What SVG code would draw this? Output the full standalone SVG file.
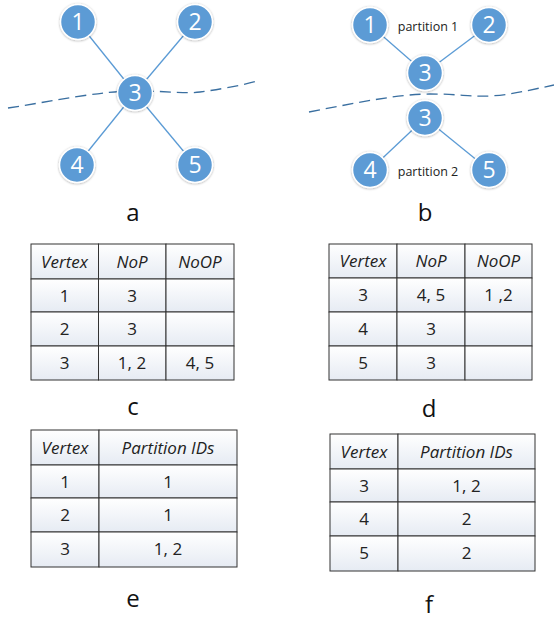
<svg xmlns="http://www.w3.org/2000/svg" width="554" height="620" viewBox="0 0 554 620">
<defs>
<linearGradient id="cell" x1="0" y1="0" x2="0" y2="1">
<stop offset="0" stop-color="#ffffff"/>
<stop offset="1" stop-color="#e6ebf3"/>
</linearGradient>
<filter id="sh" x="-30%" y="-30%" width="160%" height="160%">
<feDropShadow dx="0" dy="0.5" stdDeviation="1" flood-color="#000" flood-opacity="0.35"/>
</filter>
<style>
.nd{fill:#5B9BD5;stroke:#fff;stroke-width:1.5;filter:url(#sh)}
.nt{font-family:"Open Sans","Liberation Sans",sans-serif;font-size:23px;fill:#fff;text-anchor:middle}
.ed{stroke:#5B9BD5;stroke-width:1.3;fill:none}
.cut{stroke:#3A6FA0;stroke-width:1.3;fill:none;stroke-dasharray:11,6}
.pt{font-family:"Open Sans","Liberation Sans",sans-serif;font-size:12.5px;fill:#222;text-anchor:middle}
.lb{font-family:"Open Sans","Liberation Sans",sans-serif;font-size:24px;fill:#111;text-anchor:middle}
.cl{fill:url(#cell);stroke:#333;stroke-width:1}
.th{font-family:"Open Sans","Liberation Sans",sans-serif;font-size:17px;font-style:italic;fill:#222;text-anchor:middle}
.td{font-family:"Open Sans","Liberation Sans",sans-serif;font-size:17px;fill:#222;text-anchor:middle}
</style>
</defs>
<rect width="554" height="620" fill="#fff"/>

<g id="connectors">
<line class="ed" x1="78" y1="22" x2="135" y2="93"/>
<line class="ed" x1="195" y1="22" x2="135" y2="93"/>
<line class="ed" x1="77" y1="165" x2="135" y2="93"/>
<line class="ed" x1="195" y1="165" x2="135" y2="93"/>
<line class="ed" x1="370" y1="25" x2="425" y2="73"/>
<line class="ed" x1="489" y1="25" x2="425" y2="73"/>
<line class="ed" x1="425" y1="118" x2="370" y2="170"/>
<line class="ed" x1="425" y1="118" x2="489" y2="170"/>
</g>
<path id="cut-a" class="cut" d="M8,108 C60,100 100,91 135,91 S185,94 200,92 S240,86 257,81"/>
<path id="cut-b" class="cut" d="M309,112 C360,102 400,94 430,94 S470,97 490,96 S530,90 554,85"/>

<g id="a1"><circle class="nd" cx="78" cy="22" r="17.5"/><text class="nt" x="78" y="30">1</text></g>
<g id="a2"><circle class="nd" cx="195" cy="22" r="17.5"/><text class="nt" x="195" y="30">2</text></g>
<g id="a3"><circle class="nd" cx="135" cy="93" r="17.5"/><text class="nt" x="135" y="101">3</text></g>
<g id="a4"><circle class="nd" cx="77" cy="165" r="17.5"/><text class="nt" x="77" y="173">4</text></g>
<g id="a5"><circle class="nd" cx="195" cy="165" r="17.5"/><text class="nt" x="195" y="173">5</text></g>
<text class="lb" x="133" y="221">a</text>

<g id="b1"><circle class="nd" cx="370" cy="25" r="17.5"/><text class="nt" x="370" y="33">1</text></g>
<g id="b2"><circle class="nd" cx="489" cy="25" r="17.5"/><text class="nt" x="489" y="33">2</text></g>
<g id="b3u"><circle class="nd" cx="425" cy="73" r="17.5"/><text class="nt" x="425" y="81">3</text></g>
<g id="b3l"><circle class="nd" cx="425" cy="118" r="17.5"/><text class="nt" x="425" y="126">3</text></g>
<g id="b4"><circle class="nd" cx="370" cy="170" r="17.5"/><text class="nt" x="370" y="178">4</text></g>
<g id="b5"><circle class="nd" cx="489" cy="170" r="17.5"/><text class="nt" x="489" y="178">5</text></g>
<text class="pt" x="428" y="31">partition 1</text>
<text class="pt" x="428" y="176">partition 2</text>
<text class="lb" x="425" y="221">b</text>

<g id="table-c">
<rect class="cl" x="31" y="244" width="67.5" height="35"/><rect class="cl" x="98.5" y="244" width="67.5" height="35"/><rect class="cl" x="166" y="244" width="68" height="35"/>
<rect class="cl" x="31" y="279" width="67.5" height="33"/><rect class="cl" x="98.5" y="279" width="67.5" height="33"/><rect class="cl" x="166" y="279" width="68" height="33"/>
<rect class="cl" x="31" y="312" width="67.5" height="34"/><rect class="cl" x="98.5" y="312" width="67.5" height="34"/><rect class="cl" x="166" y="312" width="68" height="34"/>
<rect class="cl" x="31" y="346" width="67.5" height="34"/><rect class="cl" x="98.5" y="346" width="67.5" height="34"/><rect class="cl" x="166" y="346" width="68" height="34"/>
<text class="th" x="64.5" y="268">Vertex</text><text class="th" x="132" y="268">NoP</text><text class="th" x="200" y="268">NoOP</text>
<text class="td" x="64.5" y="302">1</text><text class="td" x="132" y="302">3</text>
<text class="td" x="64.5" y="335">2</text><text class="td" x="132" y="335">3</text>
<text class="td" x="64.5" y="369">3</text><text class="td" x="132" y="369">1, 2</text><text class="td" x="200" y="369">4, 5</text>
</g>
<text class="lb" x="133" y="415">c</text>

<g id="table-d">
<rect class="cl" x="329" y="244" width="68" height="34"/><rect class="cl" x="397" y="244" width="68" height="34"/><rect class="cl" x="465" y="244" width="67" height="34"/>
<rect class="cl" x="329" y="278" width="68" height="34"/><rect class="cl" x="397" y="278" width="68" height="34"/><rect class="cl" x="465" y="278" width="67" height="34"/>
<rect class="cl" x="329" y="312" width="68" height="34"/><rect class="cl" x="397" y="312" width="68" height="34"/><rect class="cl" x="465" y="312" width="67" height="34"/>
<rect class="cl" x="329" y="346" width="68" height="34"/><rect class="cl" x="397" y="346" width="68" height="34"/><rect class="cl" x="465" y="346" width="67" height="34"/>
<text class="th" x="363" y="267">Vertex</text><text class="th" x="431" y="267">NoP</text><text class="th" x="498.5" y="267">NoOP</text>
<text class="td" x="363" y="301">3</text><text class="td" x="431" y="301">4, 5</text><text class="td" x="498.5" y="301">1 ,2</text>
<text class="td" x="363" y="335">4</text><text class="td" x="431" y="335">3</text>
<text class="td" x="363" y="369">5</text><text class="td" x="431" y="369">3</text>
</g>
<text class="lb" x="429" y="417">d</text>

<g id="table-e">
<rect class="cl" x="31" y="430" width="68" height="35"/><rect class="cl" x="99" y="430" width="138" height="35"/>
<rect class="cl" x="31" y="465" width="68" height="33"/><rect class="cl" x="99" y="465" width="138" height="33"/>
<rect class="cl" x="31" y="498" width="68" height="34"/><rect class="cl" x="99" y="498" width="138" height="34"/>
<rect class="cl" x="31" y="532" width="68" height="35"/><rect class="cl" x="99" y="532" width="138" height="35"/>
<text class="th" x="65" y="454">Vertex</text><text class="th" x="168" y="454">Partition IDs</text>
<text class="td" x="65" y="488">1</text><text class="td" x="168" y="488">1</text>
<text class="td" x="65" y="521">2</text><text class="td" x="168" y="521">1</text>
<text class="td" x="65" y="555">3</text><text class="td" x="168" y="555">1, 2</text>
</g>
<text class="lb" x="133" y="607">e</text>

<g id="table-f">
<rect class="cl" x="330" y="434" width="68" height="35"/><rect class="cl" x="398" y="434" width="137" height="35"/>
<rect class="cl" x="330" y="469" width="68" height="33"/><rect class="cl" x="398" y="469" width="137" height="33"/>
<rect class="cl" x="330" y="502" width="68" height="34"/><rect class="cl" x="398" y="502" width="137" height="34"/>
<rect class="cl" x="330" y="536" width="68" height="35"/><rect class="cl" x="398" y="536" width="137" height="35"/>
<text class="th" x="364" y="458">Vertex</text><text class="th" x="466.5" y="458">Partition IDs</text>
<text class="td" x="364" y="492">3</text><text class="td" x="466.5" y="492">1, 2</text>
<text class="td" x="364" y="525">4</text><text class="td" x="466.5" y="525">2</text>
<text class="td" x="364" y="559">5</text><text class="td" x="466.5" y="559">2</text>
</g>
<text class="lb" x="429" y="613">f</text>
</svg>
